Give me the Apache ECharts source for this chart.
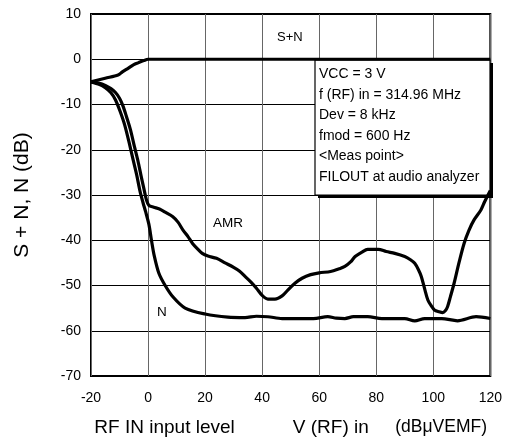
<!DOCTYPE html>
<html>
<head>
<meta charset="utf-8">
<script src="https://cdn.jsdelivr.net/npm/echarts@6/dist/echarts.min.js"></script>
<style>html,body{margin:0;padding:0;background:#fff}#c{width:505px;height:442px}</style>
</head>
<body>
<div id="c"></div>
<script>
// x: RF IN input level (dBµVEMF), y: dB
const snData = [[-20,-5],[-15,-4.2],[-10.5,-3.5],[-9,-2.8],[-7,-2],[-5,-1.2],[-3.5,-0.8],[-1.5,-0.3],[0,0],[120,0]];
const amrData = [[-20,-5],[-17,-5.3],[-15,-5.8],[-13,-6.5],[-11.5,-7.3],[-10,-8.6],[-8.8,-10.3],[-7.6,-12.6],[-6.2,-15.5],[-4.7,-19.5],[-3.5,-22.6],[-2.5,-25.6],[-1.5,-28.5],[-0.6,-31],[0.3,-32.3],[2,-32.7],[4,-33.1],[6,-33.8],[8.7,-34.8],[10.5,-36],[12.2,-37.7],[14,-39.2],[15.6,-40.7],[17.5,-42],[19,-42.9],[21,-43.5],[24,-44],[27,-45],[30,-46],[32,-46.8],[34,-48],[36,-49.2],[38,-50.6],[40,-52.2],[42,-53],[44.5,-53],[47,-52.3],[49,-51],[51.5,-49.5],[54,-48.4],[57,-47.6],[60,-47.2],[64,-46.9],[67,-46.3],[69,-45.8],[71,-44.8],[72.6,-43.6],[75,-42.6],[77,-42],[80.7,-42],[83.5,-42.5],[86.5,-42.9],[90,-43.6],[92,-44.3],[93.5,-45.1],[94.8,-46.5],[95.8,-48],[97,-50.8],[98.1,-53.2],[99.3,-54.5],[100.4,-55.4],[102,-55.8],[103.3,-56],[104.2,-55.6],[105,-54.7],[106,-52.5],[107.3,-49.5],[109,-45],[110.8,-40.7],[112.5,-37.8],[114.3,-35.5],[116.7,-33.3],[118,-31.5],[120,-29]];
const nData = [[-20,-5],[-17,-5.6],[-15,-6.3],[-13,-7.4],[-11.4,-9],[-9.8,-11.5],[-8.2,-14.5],[-6.6,-18.5],[-5.2,-22.3],[-4,-25.5],[-2.8,-29.2],[-1.8,-31.6],[-0.8,-33.8],[0.3,-36.5],[1.2,-40],[2.2,-43.5],[3.8,-47.3],[6,-50],[8.7,-52.5],[13,-55],[20,-56.3],[28,-57],[34,-57.1],[38,-56.8],[42,-56.9],[47,-57.3],[58,-57.3],[63,-56.9],[66,-57.2],[69,-57.3],[72,-56.9],[77,-56.9],[82,-57.3],[90,-57.3],[93.5,-57.8],[97,-57.3],[103,-57.3],[108.5,-57.8],[115,-56.9],[120,-57.3]];
const xTicks = [-20,0,20,40,60,80,100,120];
const yTicks = [10,0,-10,-20,-30,-40,-50,-60,-70];
const seriesNames = ['S+N','AMR','N'];
const conditionLines = ['VCC = 3 V','f (RF) in = 314.96 MHz','Dev = 8 kHz','fmod = 600 Hz','<Meas point>','FILOUT at audio analyzer'];
const xTitle = 'RF IN input level           V (RF) in     {b|(dBμVEMF)}';
const yTitle = 'S + N, N (dB)';

const font = 'Liberation Sans, Arial, sans-serif';
const chart = echarts.init(document.getElementById('c'), null, {renderer:'canvas'});
const lineStyle = {color:'#000', width:3.2};
chart.setOption({
  animation:false,
  backgroundColor:'#fff',
  grid:{left:91, right:12, top:14, bottom:66, show:true, borderColor:'#000', borderWidth:2, backgroundColor:'transparent'},
  xAxis:{type:'value', min:xTicks[0], max:xTicks[xTicks.length-1], interval:20,
    name:xTitle, nameLocation:'middle', nameGap:42,
    nameTextStyle:{fontFamily:font, fontSize:19, color:'#000', rich:{b:{fontFamily:font, fontSize:17.5, color:'#000'}}},
    axisLine:{show:false}, axisTick:{show:false},
    axisLabel:{fontFamily:font, fontSize:14, color:'#000', margin:15},
    splitLine:{show:true, lineStyle:{color:'#666', width:1}}},
  yAxis:{type:'value', min:yTicks[yTicks.length-1], max:yTicks[0], interval:10,
    name:yTitle, nameLocation:'middle', nameGap:58,
    nameTextStyle:{fontFamily:font, fontSize:21, color:'#000'},
    axisLine:{show:false}, axisTick:{show:false},
    axisLabel:{fontFamily:font, fontSize:14, color:'#000', margin:10},
    splitLine:{show:true, lineStyle:{color:'#000', width:1}}},
  series:[
    {name:seriesNames[0], type:'line', data:snData, showSymbol:false, smooth:0.3, lineStyle:lineStyle, z:3},
    {name:seriesNames[1], type:'line', data:amrData, showSymbol:false, smooth:0.3, lineStyle:lineStyle, z:3},
    {name:seriesNames[2], type:'line', data:nData, showSymbol:false, smooth:0.3, lineStyle:lineStyle, z:3}
  ],
  graphic:[
    {type:'rect', z:1, shape:{x:318, y:63, width:175, height:135}, style:{fill:'#000'}},
    {type:'rect', z:1, shape:{x:315, y:60, width:175, height:135}, style:{fill:'#fff', stroke:'#000', lineWidth:1.2}},
    {type:'text', z:1, left:319, top:64, style:{text:conditionLines.join('\n'), fontFamily:font, fontSize:14, lineHeight:20.5, fill:'#000'}},
    {type:'text', z:5, left:277, top:31, style:{text:seriesNames[0], fontFamily:font, fontSize:13, fill:'#000'}},
    {type:'text', z:5, left:213, top:216, style:{text:seriesNames[1], fontFamily:font, fontSize:13.5, fill:'#000'}},
    {type:'text', z:5, left:157, top:305, style:{text:seriesNames[2], fontFamily:font, fontSize:13.5, fill:'#000'}}
  ]
});
</script>
</body>
</html>
